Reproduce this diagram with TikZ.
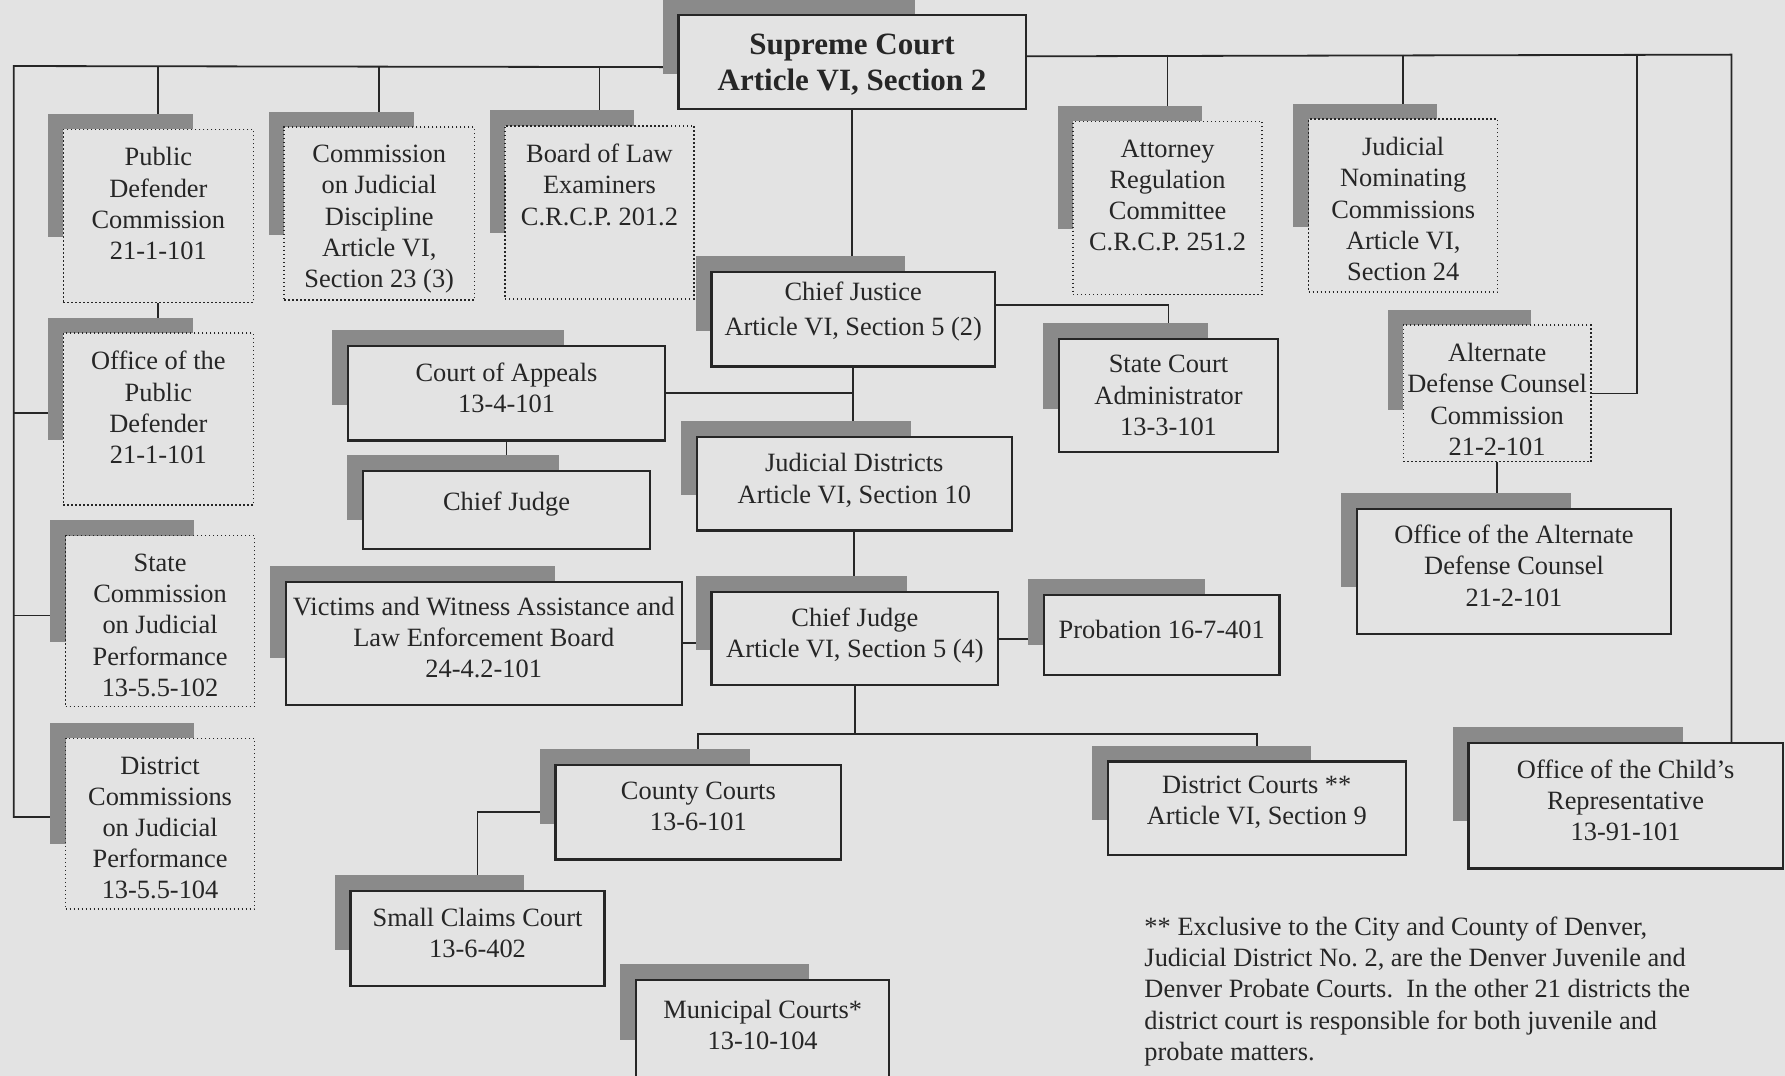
\documentclass[tikz,border=0pt]{standalone}
\usepackage{fontspec}
\setmainfont{Liberation Serif}
\usetikzlibrary{calc,backgrounds}
\definecolor{paper}{HTML}{E3E3E3}
\definecolor{ink}{HTML}{262626}
\definecolor{shade}{HTML}{8A8A8A}
\newlength{\px}\setlength{\px}{0.2mm}
% text of the dotted boxes sits at the top, the others near the middle
\newcommand{\toptext}[3]{\parbox[c][#2\px][t]{#1\px}{\centering\vspace*{3.2mm}#3}}
\newcommand{\midtext}[4][2mm]{\parbox[c][#3\px][c]{#2\px}{\centering #4\par\vspace{#1}}}
\tikzset{
  lab/.style={text=ink, font=\fontsize{13.2}{15.6}\selectfont},
  box/.style={lab, draw=ink, fill=paper, line width=1.1pt, inner sep=0pt, anchor=north west},
  dbox/.style={lab, draw=ink, fill=paper, line width=0.7pt, dash pattern=on 0.7pt off 1.3pt, inner sep=0pt, anchor=north west},
  conn/.style={draw=ink, line width=0.9pt},
  shd/.style={fill=shade},
}

\begin{document}
\begin{tikzpicture}[x=0.2mm, y=-0.2mm]
  \useasboundingbox (0,0) rectangle (1568,945);
  \coordinate (tl) at (12,58);
  \coordinate (tr) at (1521,48);
  \coordinate (tm) at (1438,48);

  % top
  \node[box, font=\fontsize{15.5}{17.6}\selectfont\bfseries] (sc) at (595,12) {\midtext[-0.9mm]{305}{83}{Supreme Court\\Article VI, Section 2}};
  \node[dbox] (pdc) at (55,113) {\toptext{167}{152}{Public\\Defender\\Commission\\21-1-101}};
  \node[dbox] (cojd) at (249,111) {\toptext{167}{152}{Commission\\on Judicial\\Discipline\\Article VI,\\Section 23 (3)}};
  \node[dbox] (ble) at (443,110) {\toptext{166}{152}{Board of Law\\Examiners\\C.R.C.P. 201.2}};
  \node[dbox] (arc) at (942,106) {\toptext{166}{152}{Attorney\\Regulation\\Committee\\C.R.C.P. 251.2}};
  \node[dbox] (jnc) at (1149,104) {\toptext{166}{152}{Judicial\\Nominating\\Commissions\\Article VI,\\Section 24}};

  % left column
  \node[dbox] (opd) at (55,292) {\toptext{167}{151}{Office of the\\Public\\Defender\\21-1-101}};
  \node[dbox] (scjp) at (57,470) {\toptext{166}{150}{State\\Commission\\on Judicial\\Performance\\13-5.5-102}};
  \node[dbox] (dcjp) at (57,648) {\toptext{166}{150}{District\\Commissions\\on Judicial\\Performance\\13-5.5-104}};
  \node[dbox] (adcc) at (1232,285) {\toptext{165}{120}{Alternate\\Defense Counsel\\Commission\\21-2-101}};

  % courts
  \node[box] (cj) at (624,238) {\midtext[2.6mm]{249}{83}{Chief Justice\\[1.8pt]Article VI, Section 5 (2)}};
  \node[box] (coa) at (305,303) {\midtext{278}{83}{Court of Appeals\\13-4-101}};
  \node[box] (cjca) at (318,413) {\midtext{252}{68}{Chief Judge}};
  \node[box] (jd) at (611,383) {\midtext[1.2mm]{277}{82}{Judicial Districts\\Article VI, Section 10}};
  \node[box] (sca) at (929,297) {\midtext[0mm]{193}{99}{State Court\\Administrator\\13-3-101}};
  \node[box] (vwa) at (250,510) {\midtext{348}{108}{Victims and Witness Assistance and\\Law Enforcement Board\\24-4.2-101}};
  \node[box] (cjdj) at (624,519) {\midtext[1.2mm]{252}{82}{Chief Judge\\Article VI, Section 5 (4)}};
  \node[box] (prob) at (916,522) {\midtext{207}{70}{Probation 16-7-401}};
  \node[box] (oadc) at (1191,446) {\midtext{276}{110}{Office of the Alternate\\Defense Counsel\\21-2-101}};
  \node[box] (cc) at (487,671) {\midtext{251}{83}{County Courts\\13-6-101}};
  \node[box] (dc) at (972,668) {\midtext{262}{82}{District Courts **\\Article VI, Section 9}};
  \node[box] (ocr) at (1289,652) {\midtext{276}{110}{Office of the Child's\\Representative\\13-91-101}};
  \node[box] (scc) at (307,782) {\midtext{223}{83}{Small Claims Court\\13-6-402}};
  \node[box] (mc) at (558,860) {\midtext[1.2mm]{222}{85}{Municipal Courts*\\13-10-104}};

  \node[lab, anchor=north west, align=left, inner sep=0pt] (note) at (1005,805) {** Exclusive to the City and County of Denver,\\Judicial District No.~2, are the Denver Juvenile and\\Denver Probate Courts.\ \ In the other 21 districts the\\district court is responsible for both juvenile and\\probate matters.};

  \begin{scope}[on background layer]
    \fill[paper] (0,0) rectangle (1568,945);

    % lines
    \draw[conn] ([yshift=-0.9mm]sc.west) -- (tl) |- ([yshift=1.2mm]dcjp.west);
    \draw[conn] ([yshift=1mm]opd.west -| tl) -- ([yshift=1mm]opd.west);
    \draw[conn] ([yshift=1mm]scjp.west -| tl) -- ([yshift=1mm]scjp.west);
    \foreach \n in {pdc,cojd,ble}
      \draw[conn] (\n.north |- tl) -- (\n.north);
    \draw[conn] (pdc.south) -- (opd.north);
    \draw[conn] ([yshift=1mm]sc.east) -- (tr) -- (tr |- ocr.north);
    \foreach \n in {arc,jnc}
      \draw[conn] (\n.north |- tr) -- (\n.north);
    \draw[conn] (tm) |- (adcc.east);
    \draw[conn] (adcc.south) -- (adcc.south |- oadc.north);
    \draw[conn] (sc.south) -- (sc.south |- cj.north);
    \draw[conn] ([yshift=2.5mm]cj.east) -| (sca.north);
    \draw[conn] (cj.south) -- (cj.south |- jd.north);
    \draw[conn] (coa.east) -- (coa.east -| cj.south);
    \draw[conn] (coa.south) -- (coa.south |- cjca.north);
    \draw[conn] (jd.south) -- (jd.south |- cjdj.north);
    \draw[conn] (vwa.east) -- (vwa.east -| cjdj.west);
    \draw[conn] (cjdj.east) -- (cjdj.east -| prob.west);
    \draw[conn] (cjdj.south) -- ++(0,42) coordinate (cb);
    \draw[conn] (cc.north) |- (cb) -| (dc.north);
    \draw[conn] (cc.west) -| (scc.north);

    % shadows
    \foreach \n in {sc,pdc,cojd,ble,arc,jnc,opd,scjp,dcjp,adcc,cj,coa,cjca,jd,sca,vwa,cjdj,prob,oadc,cc,dc,ocr,scc,mc}{
      \path ($(\n.north west)!0.68!(\n.north east)$) coordinate (sx)
            ($(\n.north west)!0.62!(\n.south west)$) coordinate (sy);
      \fill[shd] ($(\n.north west)+(-13,-13)$) rectangle (sx |- sy);
    }
  \end{scope}
\end{tikzpicture}
\end{document}
